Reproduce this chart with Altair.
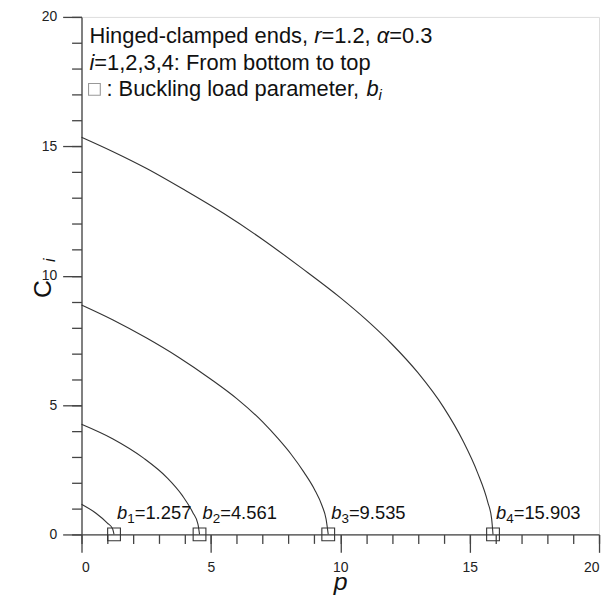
import altair as alt
import pandas as pd

# ---------------- data ----------------
c1_p = [0, 0.56, 1.0, 1.2, 1.257]
c1_c = [1.17, 0.82, 0.44, 0.22, 0.0]

c2_p = [0, 1.2, 2.4, 3.3, 3.9, 4.3, 4.5, 4.561]
c2_c = [4.26, 3.70, 2.95, 2.20, 1.50, 0.85, 0.40, 0.0]

c3_p = [0, 1.2, 2.5, 3.75, 5.0, 6.0, 7.0, 7.6, 8.1, 8.6, 9.0, 9.3, 9.45, 9.535]
c3_c = [8.87, 8.30, 7.60, 6.85, 6.00, 5.25, 4.35, 3.70, 3.10, 2.40, 1.75, 1.10, 0.60, 0.0]

c4_p = [0, 1.2, 2.5, 4.0, 5.5, 7.0, 8.5, 10.0, 11.0, 12.0, 13.0, 14.0, 14.75, 15.3, 15.7, 15.85, 15.903]
c4_c = [15.35, 14.80, 14.15, 13.30, 12.40, 11.40, 10.30, 9.15, 8.30, 7.35, 6.25, 4.90, 3.60, 2.40, 1.25, 0.60, 0.0]

buck_p = [1.257, 4.561, 9.535, 15.903]
buck_sub = ["1", "2", "3", "4"]
buck_txt = ["=1.257", "=4.561", "=9.535", "=15.903"]

major_ticks = [0, 5, 10, 15, 20]
minor_ticks = list(range(0, 21))

# ---------------- helpers ----------------
FONT = "Liberation Sans"
W = {' ': 278, ',': 278, '-': 333, '.': 278, ':': 278, '=': 584, 'H': 722, 'B': 667,
     'F': 611, 'C': 722, 'a': 556, 'b': 556, 'c': 500, 'd': 556, 'e': 556, 'g': 556,
     'i': 222, 'k': 500, 'l': 222, 'm': 833, 'n': 556, 'o': 556, 'p': 556, 'r': 333,
     's': 500, 't': 278, 'u': 556, 'α': 578}


def width(s, size):
    return sum(W.get(ch, 556) for ch in s) * size / 1000.0


rows = []
for name, ps, cs in [("1", c1_p, c1_c), ("2", c2_p, c2_c), ("3", c3_p, c3_c), ("4", c4_p, c4_c)]:
    for k, (p, c) in enumerate(zip(ps, cs)):
        rows.append({"p": p, "C": c, "curve": name, "k": k})
curves = pd.DataFrame(rows)
buck = pd.DataFrame({"p": buck_p, "C": [0.0] * 4, "sub": buck_sub, "txt": buck_txt})
one = pd.DataFrame({"z": [0]})

xscale = alt.Scale(domain=[0, 20], nice=False, zero=False)
yscale = alt.Scale(domain=[0, 20], nice=False, zero=False)

AX = dict(domainColor="#444", tickColor="#444", domainWidth=1.3, tickWidth=1.3,
          labelFont=FONT, labelFontSize=14, labelColor="#222", grid=False)

x_major = alt.Axis(values=major_ticks, tickSize=18, labelPadding=8, title=None, format="d", **AX)
y_major = alt.Axis(values=major_ticks, tickSize=19, labelPadding=6, title=None, format="d", **AX)
x_minor = alt.Axis(values=minor_ticks, tickSize=9, labels=False, domain=False, title=None,
                   tickColor="#444", tickWidth=1.3, grid=False, orient="bottom")
y_minor = alt.Axis(values=minor_ticks, tickSize=10, labels=False, domain=False, title=None,
                   tickColor="#444", tickWidth=1.3, grid=False, orient="left")

lines = alt.Chart(curves).mark_line(color="#333", strokeWidth=1.1, interpolate="monotone").encode(
    x=alt.X("p:Q", scale=xscale, axis=x_major),
    y=alt.Y("C:Q", scale=yscale, axis=y_major),
    detail="curve:N",
    order="k:Q",
)

minor = alt.Chart(curves).mark_point(opacity=0).encode(
    x=alt.X("p:Q", scale=xscale, axis=x_minor),
    y=alt.Y("C:Q", scale=yscale, axis=y_minor),
)

XN = alt.X("p:Q", scale=xscale, axis=None)
YN = alt.Y("C:Q", scale=yscale, axis=None)

squares = alt.Chart(buck).mark_point(shape="square", filled=False, size=165, color="#333",
                                     strokeWidth=1.1, opacity=1).encode(x=XN, y=YN)

LS = 18.5
SS = 13.5
d0 = 3
lab_b = alt.Chart(buck).mark_text(font=FONT, fontSize=LS, fontStyle="italic", align="left",
                                  baseline="alphabetic", dx=d0, dy=-16, color="#111").encode(
    x=XN, y=YN, text=alt.value("b"))
lab_s = alt.Chart(buck).mark_text(font=FONT, fontSize=SS, align="left",
                                  baseline="alphabetic", dx=d0 + width("b", LS), dy=-11.5,
                                  color="#111").encode(x=XN, y=YN, text="sub:N")
lab_t = alt.Chart(buck).mark_text(font=FONT, fontSize=LS, align="left",
                                  baseline="alphabetic", dx=d0 + width("b", LS) + width("1", SS),
                                  dy=-16, color="#111").encode(x=XN, y=YN, text="txt:N")

# header text
HS = 22
header_lines = [
    (26, [("Hinged-clamped ends, ", "normal", HS, 0), ("r", "italic", HS, 0), ("=1.2, ", "normal", HS, 0),
          ("α", "italic", HS, 0), ("=0.3", "normal", HS, 0)]),
    (53, [("i", "italic", HS, 0), ("=1,2,3,4: From bottom to top", "normal", HS, 0)]),
]
texts = []
for ybase, segs in header_lines:
    xx = 8
    for s, st, sz, dy in segs:
        texts.append(alt.Chart(one).mark_text(text=s, font=FONT, fontSize=sz, fontStyle=st, align="left",
                                              baseline="alphabetic", color="#111").encode(
            x=alt.value(xx), y=alt.value(ybase + dy)))
        xx += width(s, sz)

# line 3: square symbol + text
sym = alt.Chart(one).mark_point(shape="square", filled=False, size=140, color="#999",
                                strokeWidth=1.1, opacity=1).encode(x=alt.value(13), y=alt.value(73))
texts.append(sym)
xx = 19 + width(" ", HS)
for s, st, sz, dy in [(": Buckling load parameter,", "normal", HS, 0), ("b", "italic", HS, 0),
                      ("i", "italic", 15, 4)]:
    texts.append(alt.Chart(one).mark_text(text=s, font=FONT, fontSize=sz, fontStyle=st, align="left",
                                          baseline="alphabetic", color="#111").encode(
        x=alt.value(xx), y=alt.value(80 + dy)))
    xx += width(s, sz) + (width(" ", HS) if s.endswith(",") else 0)

# axis titles
title_p = alt.Chart(one).mark_text(text="p", font=FONT, fontSize=25, fontStyle="italic", align="center",
                                   baseline="alphabetic", color="#111").encode(
    x=alt.value(261), y=alt.value(577))
title_c = alt.Chart(one).mark_text(text="C", font=FONT, fontSize=25, angle=270, align="center",
                                   baseline="middle", color="#111").encode(
    x=alt.value(-39), y=alt.value(274))
title_i = alt.Chart(one).mark_text(text="i", font=FONT, fontSize=16, fontStyle="italic", angle=270,
                                   align="center", baseline="middle", color="#111").encode(
    x=alt.value(-32), y=alt.value(245))

chart = alt.layer(lines, minor, squares, lab_b, lab_s, lab_t, title_p, title_c, title_i, *texts).resolve_axis(
    x="independent", y="independent"
).properties(
    width=521, height=521,
    autosize=alt.AutoSizeParams(type="none"),
    padding={"left": 74, "top": 7, "right": 5, "bottom": 60},
).configure_view(stroke="#444", strokeWidth=1.3).configure(background="white")

chart.save("out.html", embed_options={"renderer": "svg", "actions": False})
